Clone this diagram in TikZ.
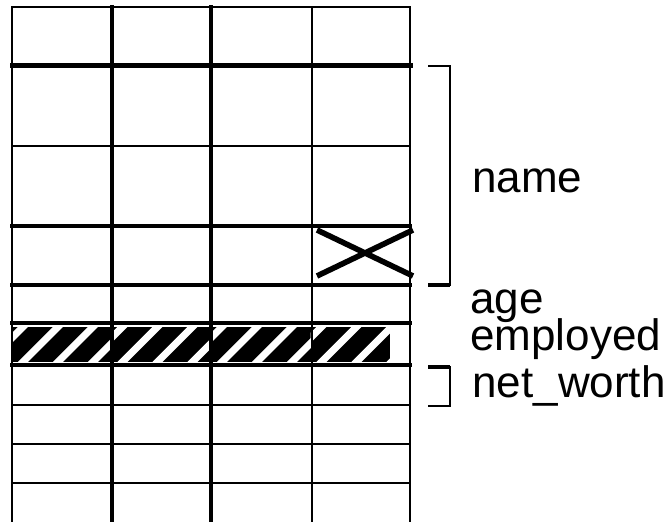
\documentclass[tikz,border=0pt]{standalone}
\usepackage{fontspec}
\setmainfont{Liberation Sans}
\usetikzlibrary{positioning}
\tikzset{
  thinln/.style={line width=1.2pt, line cap=rect},
  thickln/.style={line width=2pt, line cap=rect},
  heavyln/.style={line width=2.5pt},
  crossln/.style={line width=2.8pt},
  brk/.style={line width=1.1pt},
  brkend/.style={line width=2pt},
  lbl/.style={font=\fontsize{22}{26}\selectfont, anchor=base west, inner sep=0pt},
}

\begin{document}
\begin{tikzpicture}[x=0.5pt,y=-0.5pt]
\useasboundingbox (0,0) rectangle (665,522);
% hatched row
\fill (12,327) rectangle (390,362);
\foreach \c in {0,1,2,3}{
  \begin{scope}
    \clip ({12+99.5*\c},327) rectangle ({min(112+99.5*\c,390)},362);
    \foreach \k in {-1,0,1,2}
      \fill[white] ({18+99.5*\c+35*\k},362) -- ++(10,0) -- ++(35,-35) -- ++(-10,0) -- cycle;
  \end{scope}}
% grid
\foreach \y/\w in {7/thinln,146/thinln,226/thickln,285/thickln,323/thickln,365/thickln,405/thinln,444/thinln,483/thinln}
  \draw[\w] (12,\y) -- (410,\y);
\draw[heavyln] (10,66) -- (413,66);
\foreach \x/\w in {12/thinln,112/thickln,211/thickln,312/thinln,410/thinln}
  \draw[\w] (\x,7) -- (\x,522);
% cross
\draw[crossln] (317,230) -- (413,276) (317,276) -- (413,230);
% brackets
\draw[brk] (428,66) -| (450,285) -- (428,285);
\draw[brkend] (428,285) -- (450,285);
\draw[brk] (428,367) -| (450,406) -- (428,406);
\draw[brkend] (428,367) -- (450,367);
% labels
\node[lbl] (name) at (472,193) {name};
\node[lbl] (age) at (470,314) {age};
\node[lbl] (employed) at (470,351) {employed};
\node[lbl] (networth) at (472,398) {net\_worth};
\end{tikzpicture}
\end{document}
